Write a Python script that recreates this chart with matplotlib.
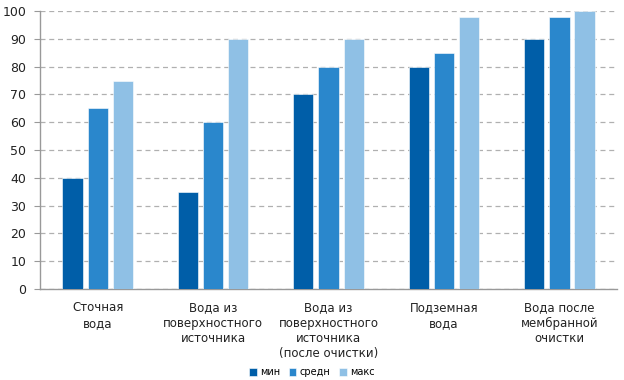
import matplotlib
matplotlib.use("Agg")
import matplotlib.pyplot as plt
import numpy as np

categories = ["Сточная\nвода", "Вода из\nповерхностного\nисточника",
              "Вода из\nповерхностного\nисточника\n(после очистки)",
              "Подземная\nвода", "Вода после\nмембранной\nочистки"]
series_names = ["мин", "средн", "макс"]
v_min = [40, 35, 70, 80, 90]
v_avg = [65, 60, 80, 85, 98]
v_max = [75, 90, 90, 98, 100]
colors = ["#005ea8", "#2a87cc", "#8fc0e5"]

plt.rcParams['font.family'] = ['DejaVu Sans']
fig = plt.figure(figsize=(6.24, 3.8), dpi=100)
ax = fig.add_axes([0.064, 0.2395, 0.925, 0.7315])

x = np.arange(len(categories))
w = 0.175
off = 0.218
for i, (vals, name, c) in enumerate(zip([v_min, v_avg, v_max], series_names, colors)):
    ax.bar(x + (i - 1) * off, vals, width=w, color=c, label=name, zorder=3,
           edgecolor="white", linewidth=0.4)

ax.set_xlim(-0.5, len(categories) - 0.5)
ax.set_ylim(0, 100)
ax.set_yticks(range(0, 101, 10))
ax.yaxis.grid(True, linestyle=(0, (4, 3)), color="#b0b0b0", linewidth=0.9, zorder=0)
ax.set_xticks(x)
ax.set_xticklabels(categories, fontsize=8.5, color="#222222", linespacing=1.22)
ax.tick_params(axis='x', length=0, pad=9)
ax.tick_params(axis='y', length=4, color="#999999", labelsize=9, labelcolor="#222222", pad=6)
for s in ["top", "right"]:
    ax.spines[s].set_visible(False)
for s in ["left", "bottom"]:
    ax.spines[s].set_color("#999999")
    ax.spines[s].set_linewidth(1)

fig.legend(loc="lower center", bbox_to_anchor=(0.5, -0.006), ncol=3, frameon=False,
           fontsize=7, handlelength=0.75, handleheight=0.75, handletextpad=0.35,
           columnspacing=0.9, borderpad=0)

fig.savefig("out.png", dpi=100)
